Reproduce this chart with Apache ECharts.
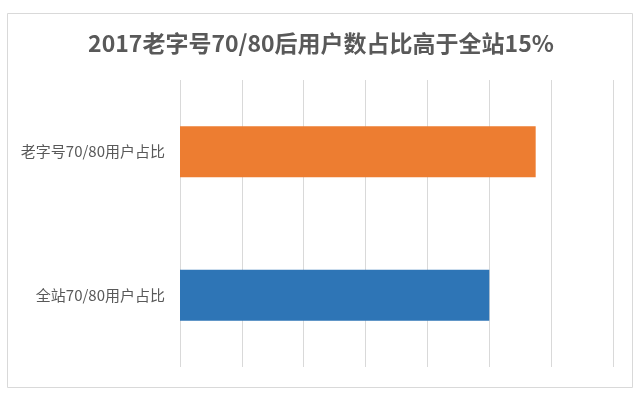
<!DOCTYPE html>
<html>
<head>
<meta charset="utf-8">
<script src="https://cdn.jsdelivr.net/npm/echarts@6/dist/echarts.min.js"></script>
<style>html,body{margin:0;padding:0;background:#fff;}#chart{width:642px;height:396px;}</style>
</head>
<body>
<div id="chart"></div>
<script>
const titleText = '2017老字号70/80后用户数占比高于全站15%';
const categories = ['全站70/80用户占比', '老字号70/80用户占比'];
const values = [0.50, 0.575];
const barColors = ['#2E75B6', '#ED7D31'];
const axisMin = 0, axisMax = 0.7, axisInterval = 0.1;

const chart = echarts.init(document.getElementById('chart'), null, {renderer: 'canvas'});
chart.setOption({
  backgroundColor: '#ffffff',
  animation: false,
  title: {
    text: titleText,
    left: 'center',
    top: 27,
    textStyle: {
      fontFamily: '"Noto Sans CJK SC", sans-serif',
      fontWeight: 'bold',
      fontSize: 23,
      color: '#595959'
    }
  },
  graphic: [{
    type: 'rect',
    shape: {x: 7.5, y: 13.5, width: 625, height: 374},
    style: {fill: 'none', stroke: '#d9d9d9', lineWidth: 1},
    z: -1
  }],
  grid: {left: 180, right: 29, top: 80, bottom: 29, containLabel: false},
  xAxis: {
    type: 'value',
    min: axisMin, max: axisMax, interval: axisInterval,
    axisLabel: {show: false},
    axisLine: {show: false},
    axisTick: {show: false},
    splitLine: {show: true, lineStyle: {color: '#d9d9d9', width: 1}}
  },
  yAxis: {
    type: 'category',
    data: categories,
    axisLine: {show: false},
    axisTick: {show: false},
    axisLabel: {
      margin: 15,
      fontFamily: '"Noto Sans CJK SC", sans-serif',
      fontSize: 15,
      color: '#595959'
    }
  },
  series: [{
    type: 'bar',
    barWidth: 51,
    data: values.map((v, i) => ({value: v, itemStyle: {color: barColors[i]}}))
  }]
});
</script>
</body>
</html>
